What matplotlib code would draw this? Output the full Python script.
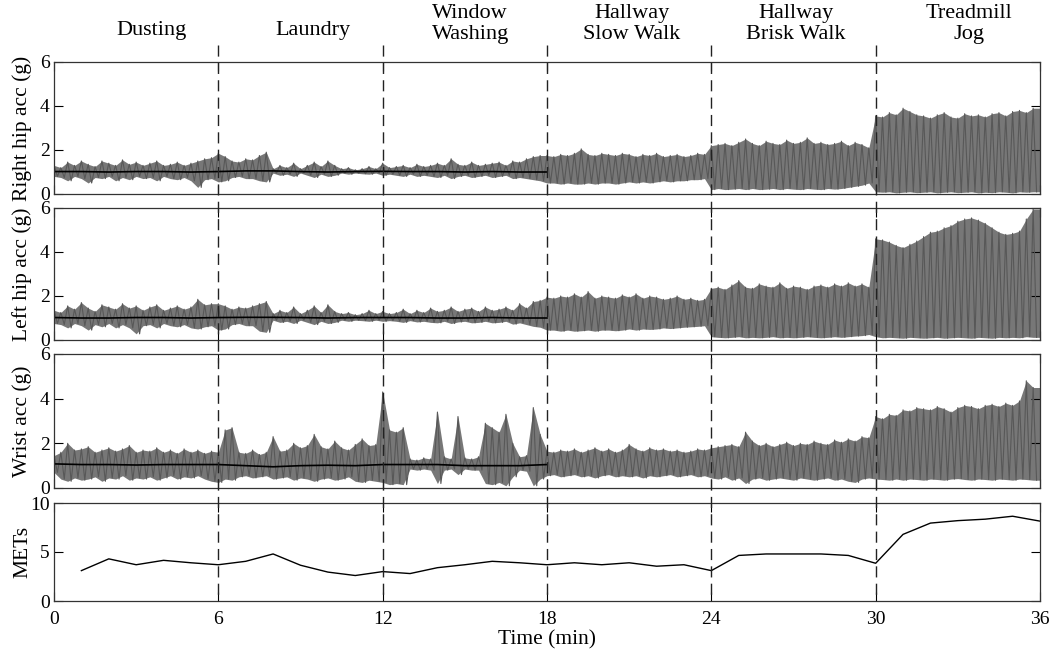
import numpy as np
import matplotlib
matplotlib.use('Agg')
import matplotlib.pyplot as plt
from matplotlib.lines import Line2D
import matplotlib.transforms as mtransforms

plt.rcParams['font.family'] = ['Liberation Serif', 'DejaVu Serif']

# ---------------- data ----------------
activities = ["Dusting", "Laundry", "Window\nWashing", "Hallway\nSlow Walk",
              "Hallway\nBrisk Walk", "Treadmill\nJog"]
activity_label_t = [3.55, 9.45, 15.2, 21.1, 27.1, 33.4]
boundaries = [6, 12, 18, 24, 30]
bin_min = 0.25   # envelope values every quarter minute

# Right hip acceleration envelope (g)
right_hi = [1.30,1.20,1.45,1.30,1.50,1.35,1.25,1.50,1.40,1.30,1.55,1.35,1.45,1.30,1.40,1.50,1.30,1.35,1.45,1.30,1.40,1.50,1.60,1.65,
            1.85,1.70,1.50,1.45,1.60,1.55,1.75,1.90,1.15,1.30,1.20,1.40,1.15,1.30,1.45,1.25,1.50,1.30,1.15,1.20,1.10,1.15,1.25,1.15,
            1.40,1.20,1.25,1.30,1.20,1.35,1.25,1.30,1.40,1.30,1.60,1.35,1.30,1.45,1.30,1.35,1.40,1.45,1.30,1.50,1.45,1.60,1.70,1.75,
            1.75,1.70,1.80,1.75,1.85,2.05,1.80,1.75,1.85,1.80,1.75,1.85,1.80,1.70,1.80,1.75,1.85,1.70,1.75,1.80,1.70,1.75,1.85,1.80,
            2.20,2.25,2.30,2.20,2.35,2.50,2.30,2.20,2.40,2.30,2.25,2.45,2.30,2.35,2.55,2.30,2.35,2.25,2.30,2.40,2.20,2.35,2.25,2.10,
            3.55,3.50,3.70,3.60,3.90,3.75,3.60,3.55,3.45,3.60,3.70,3.50,3.45,3.65,3.55,3.60,3.50,3.65,3.70,3.55,3.75,3.80,3.70,3.90]
right_lo = [0.80,0.75,0.60,0.80,0.70,0.50,0.75,0.70,0.80,0.60,0.75,0.65,0.80,0.70,0.75,0.60,0.80,0.70,0.65,0.75,0.60,0.30,0.65,0.70,
            0.55,0.60,0.75,0.80,0.70,0.70,0.60,0.55,0.95,0.85,0.90,0.80,0.95,0.85,0.75,0.90,0.80,0.85,0.95,0.90,0.95,0.92,0.90,0.95,
            0.85,0.90,0.85,0.80,0.90,0.80,0.85,0.80,0.75,0.85,0.70,0.80,0.85,0.75,0.80,0.85,0.75,0.80,0.85,0.70,0.75,0.70,0.65,0.60,
            0.50,0.50,0.45,0.50,0.45,0.45,0.50,0.45,0.50,0.50,0.45,0.50,0.55,0.50,0.55,0.50,0.55,0.60,0.55,0.60,0.60,0.65,0.65,0.70,
            0.20,0.25,0.20,0.22,0.25,0.20,0.25,0.20,0.22,0.25,0.20,0.25,0.22,0.20,0.25,0.22,0.20,0.25,0.22,0.25,0.30,0.35,0.40,0.50,
            0.10,0.08,0.10,0.05,0.08,0.10,0.06,0.08,0.10,0.05,0.08,0.10,0.06,0.08,0.10,0.05,0.08,0.06,0.10,0.08,0.05,0.10,0.08,0.10]

# Left hip acceleration envelope (g)
left_hi = [1.35,1.25,1.55,1.40,1.70,1.45,1.30,1.60,1.50,1.40,1.65,1.45,1.55,1.35,1.50,1.60,1.35,1.45,1.55,1.40,1.50,1.85,1.60,1.65,
           1.65,1.55,1.40,1.50,1.45,1.55,1.65,1.75,1.20,1.35,1.25,1.50,1.20,1.35,1.55,1.25,1.60,1.30,1.20,1.25,1.15,1.20,1.35,1.20,
           1.30,1.20,1.25,1.40,1.20,1.35,1.25,1.45,1.30,1.35,1.50,1.30,1.40,1.45,1.30,1.50,1.35,1.40,1.50,1.35,1.65,1.45,1.75,1.80,
           1.95,1.90,2.00,1.95,2.10,1.95,2.20,1.90,2.00,1.95,1.90,2.05,1.95,2.10,1.90,2.00,1.95,1.85,1.90,2.00,1.85,1.90,1.80,1.85,
           2.35,2.40,2.30,2.50,2.70,2.40,2.35,2.55,2.45,2.40,2.60,2.35,2.45,2.40,2.30,2.45,2.50,2.40,2.55,2.45,2.60,2.45,2.55,2.40,
           4.60,4.55,4.45,4.30,4.20,4.35,4.50,4.70,4.90,4.95,5.10,5.20,5.40,5.50,5.55,5.45,5.30,5.10,4.90,4.80,4.85,4.95,5.50,5.95]
left_lo = [0.75,0.70,0.55,0.75,0.65,0.45,0.70,0.60,0.75,0.55,0.70,0.55,0.28,0.65,0.70,0.55,0.75,0.65,0.60,0.70,0.55,0.50,0.60,0.65,
           0.45,0.50,0.70,0.75,0.65,0.65,0.40,0.35,0.90,0.80,0.85,0.75,0.90,0.80,0.70,0.85,0.75,0.80,0.90,0.85,0.90,0.88,0.85,0.90,
           0.85,0.88,0.85,0.80,0.88,0.82,0.85,0.80,0.78,0.85,0.75,0.82,0.85,0.78,0.80,0.85,0.78,0.80,0.85,0.72,0.78,0.70,0.62,0.58,
           0.45,0.45,0.40,0.45,0.40,0.42,0.45,0.40,0.45,0.45,0.42,0.45,0.50,0.45,0.50,0.48,0.50,0.55,0.52,0.55,0.58,0.60,0.62,0.65,
           0.15,0.12,0.10,0.12,0.15,0.10,0.12,0.10,0.12,0.15,0.10,0.12,0.10,0.12,0.15,0.12,0.10,0.12,0.15,0.12,0.15,0.18,0.20,0.25,
           0.15,0.10,0.12,0.10,0.08,0.12,0.10,0.08,0.10,0.12,0.08,0.10,0.12,0.10,0.08,0.12,0.10,0.08,0.12,0.10,0.12,0.10,0.15,0.12]

# Wrist acceleration envelope (g)
wrist_hi = [1.45,1.60,2.00,1.70,1.75,1.85,1.60,1.70,1.80,1.65,1.75,1.90,1.60,1.70,1.65,1.80,1.60,1.70,1.55,1.75,1.60,1.70,1.55,1.65,
            1.60,2.60,2.70,1.60,1.55,1.70,1.50,1.60,2.30,1.65,1.70,2.00,1.80,1.90,2.40,1.85,1.75,2.10,1.80,1.70,1.95,2.20,1.90,1.95,
            4.30,2.60,2.50,2.70,1.30,1.25,1.35,1.30,3.40,1.40,1.30,3.20,1.35,1.30,1.40,2.90,2.70,2.50,3.30,2.00,1.40,1.45,3.60,2.40,
            1.65,1.60,1.70,1.65,1.75,1.60,1.70,1.80,1.65,1.75,1.60,1.70,1.95,1.75,1.65,1.80,1.70,1.75,1.65,1.70,1.60,1.65,1.75,1.70,
            1.80,1.85,1.90,1.95,1.85,2.50,2.10,1.90,2.00,1.85,1.95,2.05,1.90,2.00,1.95,2.10,2.00,1.95,2.15,2.05,2.20,2.10,2.30,2.25,
            3.20,3.10,3.30,3.25,3.50,3.45,3.60,3.55,3.50,3.65,3.55,3.40,3.60,3.70,3.65,3.55,3.70,3.75,3.65,3.80,3.70,3.90,4.80,4.50]
wrist_lo = [0.70,0.40,0.30,0.45,0.35,0.40,0.50,0.30,0.45,0.40,0.55,0.35,0.45,0.40,0.50,0.35,0.45,0.55,0.40,0.50,0.45,0.55,0.40,0.30,
            0.25,0.40,0.35,0.50,0.55,0.45,0.50,0.55,0.40,0.45,0.50,0.35,0.45,0.40,0.30,0.40,0.45,0.35,0.40,0.50,0.30,0.25,0.35,0.30,
            0.25,0.15,0.20,0.15,0.85,0.80,0.85,0.80,0.20,0.80,0.85,0.60,0.85,0.80,0.80,0.20,0.15,0.25,0.10,0.50,0.80,0.75,0.10,0.40,
            0.55,0.60,0.50,0.55,0.60,0.50,0.55,0.45,0.55,0.60,0.50,0.55,0.50,0.55,0.45,0.55,0.50,0.55,0.60,0.50,0.55,0.60,0.50,0.55,
            0.45,0.40,0.50,0.35,0.45,0.20,0.40,0.45,0.35,0.40,0.45,0.40,0.35,0.45,0.40,0.35,0.40,0.45,0.35,0.40,0.30,0.25,0.40,0.45,
            0.40,0.38,0.35,0.40,0.35,0.40,0.38,0.35,0.40,0.38,0.35,0.40,0.42,0.38,0.35,0.40,0.38,0.35,0.40,0.38,0.35,0.40,0.38,0.35]

# Resting baseline (g) at each minute 0..18 (low-intensity activities)
baseline_t = list(range(0, 19))
right_mid = [1.02,1.02,1.00,1.02,1.02,1.00,1.02,1.05,1.05,1.02,1.00,1.02,1.03,1.02,1.02,1.00,1.02,1.00,1.00]
left_mid = [1.02,1.00,1.00,1.02,1.02,1.00,1.02,1.03,1.03,1.02,1.00,1.02,1.02,1.02,1.00,1.00,1.02,1.00,1.00]
wrist_mid = [1.08,1.05,1.05,1.03,1.05,1.05,1.05,1.00,0.95,1.00,1.02,1.00,1.05,1.05,1.05,1.00,1.00,1.00,1.05]

# METs per minute
met_t = list(range(1, 37))
mets = [3.1, 4.3, 3.7, 4.15, 3.9, 3.7, 4.05, 4.8, 3.65, 2.95, 2.6, 3.0,
        2.8, 3.4, 3.7, 4.05, 3.9, 3.7, 3.9, 3.7, 3.9, 3.55, 3.7, 3.1,
        4.65, 4.8, 4.8, 4.8, 4.65, 3.85, 6.8, 7.95, 8.2, 8.35, 8.65, 8.15]

panel_labels = ["Right hip acc (g)", "Left hip acc (g)", "Wrist acc (g)", "METs"]
x_ticks = [0, 6, 12, 18, 24, 30, 36]

# ---------------- figure ----------------
fig = plt.figure(figsize=(10.5, 6.54), dpi=100)
W, H = 1050.0, 654.0
left, right = 54 / W, 1040 / W
px_boxes = [(62, 194), (208, 340), (354, 488), (503, 601)]
axes = []
for top, bot in px_boxes:
    ax = fig.add_axes([left, 1 - bot / H, right - left, (bot - top) / H])
    axes.append(ax)

FILL = '#777777'
STROKE = '#585858'


def draw_trace(ax, hi, lo, mid):
    hi = np.asarray(hi, float)
    lo = np.asarray(lo, float)
    t = np.arange(len(hi)) * bin_min
    # envelope of the oscillating signal
    ax.fill_between(np.append(t, 36), np.append(lo, lo[-1]), np.append(hi, hi[-1]),
                    color=FILL, lw=0)
    # individual swings of the trace
    x = np.empty(2 * len(hi))
    y = np.empty(2 * len(hi))
    x[0::2] = t
    x[1::2] = t + bin_min / 2
    y[0::2] = hi
    y[1::2] = lo
    ax.plot(x, y, color=STROKE, lw=0.8)
    ax.plot(baseline_t, mid, color='black', lw=1.2)


draw_trace(axes[0], right_hi, right_lo, right_mid)
draw_trace(axes[1], left_hi, left_lo, left_mid)
draw_trace(axes[2], wrist_hi, wrist_lo, wrist_mid)
axes[3].plot(met_t, mets, color='black', lw=1.0)

for i, ax in enumerate(axes):
    ax.set_xlim(0, 36)
    if i < 3:
        ax.set_ylim(0, 6)
        ax.set_yticks([0, 2, 4, 6])
    else:
        ax.set_ylim(0, 10)
        ax.set_yticks([0, 5, 10])
    ax.set_xticks(x_ticks)
    ax.tick_params(direction='in', length=6.5, width=0.8, top=True, right=True,
                   labelsize=14, colors='black')
    ax.tick_params(axis='x', pad=7)
    ax.tick_params(axis='y', pad=3)
    if i < 3:
        ax.tick_params(labelbottom=False)
    for s in ax.spines.values():
        s.set_linewidth(0.9)
        s.set_color('#333333')
    ax.set_ylabel(panel_labels[i], fontsize=15.5)
    ax.yaxis.set_label_coords(-0.022, 0.5)

axes[3].set_xlabel("Time (min)", fontsize=15.5, labelpad=2)

# dashed activity boundaries spanning all panels
trans = mtransforms.blended_transform_factory(axes[3].transData, fig.transFigure)
for b in boundaries:
    fig.add_artist(Line2D([b, b], [1 - 45 / H, 1 - 601 / H], transform=trans,
                          color='#222222', lw=1.0, dashes=(8, 4.5)))

# activity labels
for name, tx in zip(activities, activity_label_t):
    yc = 1 - 24 / H if "\n" in name else 1 - 30 / H
    fig.text(tx, yc, name, transform=trans, ha='center', va='center',
             fontsize=16, linespacing=1.1)

fig.savefig('out.png', dpi=100)
